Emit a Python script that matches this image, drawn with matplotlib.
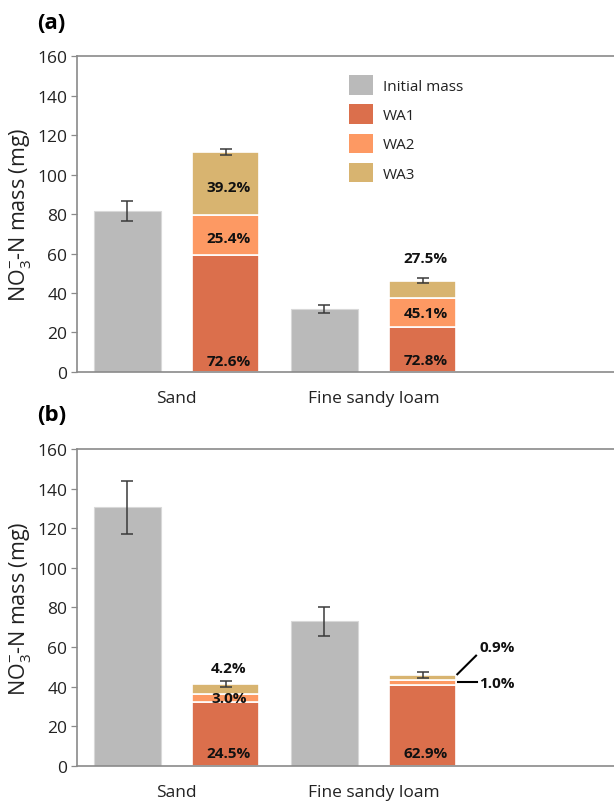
import matplotlib
matplotlib.use("Agg")
import matplotlib.pyplot as plt
from matplotlib.patches import Patch
import numpy as np

plt.rcParams['font.family'] = ['Open Sans', 'DejaVu Sans']
plt.rcParams['mathtext.fontset'] = 'custom'
plt.rcParams['mathtext.rm'] = 'Open Sans'
plt.rcParams['mathtext.it'] = 'Open Sans'

soils = ['Sand', 'Fine sandy loam']

# panel (a)
a_initial = [81.5, 31.8]
a_initial_err = [5.0, 1.9]
a_wa1 = [59.0, 22.8]
a_wa2 = [20.6, 14.7]
a_wa3 = [32.0, 8.7]
a_wa_err = [1.5, 1.3]
a_pct = [['72.6%', '25.4%', '39.2%'], ['72.8%', '45.1%', '27.5%']]

# panel (b)
b_initial = [130.5, 73.0]
b_initial_err = [13.5, 7.3]
b_wa1 = [32.0, 41.0]
b_wa2 = [4.2, 2.3]
b_wa3 = [5.1, 2.5]
b_wa_err = [1.3, 1.3]
b_pct = [['24.5%', '3.0%', '4.2%'], ['62.9%', '1.0%', '0.9%']]

c_init = '#bababa'
c_wa1 = '#db6f4c'
c_wa2 = '#fd9963'
c_wa3 = '#d8b470'
c_err = '#3a3a3a'
c_axis = '#8a8a8a'

fig = plt.figure(figsize=(6.14, 8.03), dpi=100)
ax_a = fig.add_axes([0.1254, 0.5355, 0.8746, 0.3935])
ax_b = fig.add_axes([0.1254, 0.0452, 0.8746, 0.3944])

W = 0.68
x_init = np.array([0, 2])
x_wa = np.array([1, 3])


def draw(ax, init, init_err, wa1, wa2, wa3, wa_err):
  wa1 = np.array(wa1); wa2 = np.array(wa2); wa3 = np.array(wa3)
  ax.bar(x_init, init, W, color=c_init, edgecolor='#d8d8d8', linewidth=0.8)
  ax.bar(x_wa, wa1, W, color=c_wa1, edgecolor='white', linewidth=1.2)
  ax.bar(x_wa, wa2, W, bottom=wa1, color=c_wa2, edgecolor='white', linewidth=1.2)
  ax.bar(x_wa, wa3, W, bottom=wa1 + wa2, color=c_wa3, edgecolor='white', linewidth=1.2)
  ax.errorbar(x_init, init, yerr=init_err, fmt='none', ecolor=c_err,
              elinewidth=1.1, capsize=4.5, capthick=1.1)
  ax.errorbar(x_wa, wa1 + wa2 + wa3, yerr=wa_err, fmt='none', ecolor=c_err,
              elinewidth=1.1, capsize=4.5, capthick=1.1)
  ax.set_xlim(-0.51, 4.94)
  ax.set_ylim(0, 160)
  ax.set_yticks(np.arange(0, 161, 20))
  ax.set_xticks([0.5, 2.5])
  ax.set_xticklabels(soils)
  ax.tick_params(axis='x', length=0, pad=13, labelsize=12.5, colors='#222222')
  ax.tick_params(axis='y', length=4, width=0.9, color=c_axis, labelsize=12.5,
                 labelcolor='#222222', pad=3)
  for s in ['left', 'bottom', 'top']:
    ax.spines[s].set_color(c_axis)
    ax.spines[s].set_linewidth(1.2)
  ax.spines['right'].set_visible(False)
  ax.set_ylabel(r'NO$_3^{\mathregular{-}}$-N mass (mg)', fontsize=15.5,
                color='#222222', labelpad=3)


lab = dict(ha='center', va='center', fontsize=11, fontweight='bold', color='#111111')

draw(ax_a, a_initial, a_initial_err, a_wa1, a_wa2, a_wa3, a_wa_err)
# labels (a)
ax_a.text(x_wa[0] + 0.03, 5.8, a_pct[0][0], **lab)
ax_a.text(x_wa[0] + 0.03, 67.8, a_pct[0][1], **lab)
ax_a.text(x_wa[0] + 0.03, 93.7, a_pct[0][2], **lab)
ax_a.text(x_wa[1] + 0.03, 6.0, a_pct[1][0], **lab)
ax_a.text(x_wa[1] + 0.03, 29.9, a_pct[1][1], **lab)
ax_a.text(x_wa[1] + 0.03, 57.7, a_pct[1][2], **lab)

handles = [Patch(facecolor=c, edgecolor='none') for c in [c_init, c_wa1, c_wa2, c_wa3]]
ax_a.legend(handles, ['Initial mass', 'WA1', 'WA2', 'WA3'], loc='upper left',
            bbox_to_anchor=(0.495, 0.958), frameon=False, fontsize=11,
            handlelength=1.6, handleheight=1.6, labelspacing=0.62,
            handletextpad=0.6, borderaxespad=0, labelcolor='#222222')

draw(ax_b, b_initial, b_initial_err, b_wa1, b_wa2, b_wa3, b_wa_err)
ax_b.text(x_wa[0] + 0.03, 6.4, b_pct[0][0], **lab)
ax_b.text(x_wa[0] + 0.03, 34.0, b_pct[0][1], **lab)
ax_b.text(x_wa[0] + 0.03, 49.5, b_pct[0][2], **lab)
ax_b.text(x_wa[1] + 0.03, 6.4, b_pct[1][0], **lab)
ax_b.text(3.75, 41.8, b_pct[1][1], **lab)
ax_b.text(3.75, 59.8, b_pct[1][2], **lab)
ax_b.plot([3.35, 3.54], [46.2, 55.6], color='black', lw=1.5)
ax_b.plot([3.36, 3.55], [42.4, 42.4], color='black', lw=1.5)

fig.text(0.060, 0.971, '(a)', fontsize=16, fontweight='bold', ha='left', va='center')
fig.text(0.060, 0.483, '(b)', fontsize=16, fontweight='bold', ha='left', va='center')

fig.savefig('out.png', dpi=100)
